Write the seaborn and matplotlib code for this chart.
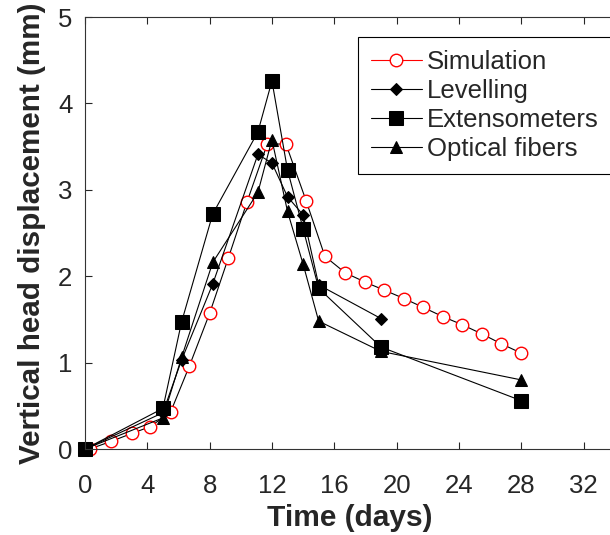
import matplotlib
matplotlib.use("Agg")
import matplotlib.pyplot as plt
import pandas as pd
import seaborn as sns

# ---------- data ----------
sim_days = [0.3, 1.7, 3.0, 4.2, 5.5, 6.7, 8.0, 9.2, 10.4, 11.7, 12.9, 14.2,
            15.4, 16.7, 18.0, 19.2, 20.5, 21.7, 23.0, 24.2, 25.5, 26.7, 28.0]
sim_disp = [0.0, 0.09, 0.18, 0.26, 0.43, 0.96, 1.57, 2.21, 2.86, 3.53, 3.53, 2.87,
            2.23, 2.04, 1.93, 1.84, 1.74, 1.64, 1.53, 1.44, 1.33, 1.22, 1.11]

lev_days = [0, 5.0, 6.2, 8.2, 11.1, 12.0, 13.0, 14.0, 15.0, 19.0]
lev_disp = [0, 0.42, 1.03, 1.91, 3.41, 3.31, 2.92, 2.71, 1.90, 1.51]

ext_days = [0, 5.0, 6.2, 8.2, 11.1, 12.0, 13.0, 14.0, 15.0, 19.0, 28.0]
ext_disp = [0, 0.47, 1.47, 2.72, 3.67, 4.26, 3.23, 2.55, 1.86, 1.18, 0.56]

opt_days = [0, 5.0, 6.2, 8.2, 11.1, 12.0, 13.0, 14.0, 15.0, 19.0, 28.0]
opt_disp = [0, 0.36, 1.06, 2.16, 2.97, 3.58, 2.75, 2.14, 1.48, 1.13, 0.80]

x_ticks = [0, 4, 8, 12, 16, 20, 24, 28, 32]
y_ticks = [0, 1, 2, 3, 4, 5]

if __name__ == "__main__":

    sns.set_style("ticks")
    plt.rcParams["font.family"] = ["Liberation Sans", "DejaVu Sans"]

    fig = plt.figure(figsize=(6.1, 5.35), dpi=100)
    ax = fig.add_axes([0.1393, 0.1607, 0.8684, 0.8075])

    line_kw = dict(color="black", linewidth=0.8, markeredgecolor="black",
                   markerfacecolor="black", ax=ax, sort=False, legend=False,
                   clip_on=False)

    sns.lineplot(x=sim_days, y=sim_disp, ax=ax, sort=False, legend=False,
                 color="black", linewidth=0.8, marker="o", markersize=9,
                 markerfacecolor="white", markeredgecolor="red",
                 markeredgewidth=1.0, clip_on=False)

    sns.lineplot(x=opt_days, y=opt_disp, marker="^", markersize=9, **line_kw)
    sns.lineplot(x=lev_days, y=lev_disp, marker="D", markersize=6.5, **line_kw)
    sns.lineplot(x=ext_days, y=ext_disp, marker="s", markersize=9.5, **line_kw)

    sim_line, opt_line, lev_line, ext_line = ax.lines[:4]

    ax.set_xlim(0, 34)
    ax.set_ylim(0, 5)
    ax.set_xticks(x_ticks)
    ax.set_yticks(y_ticks)
    ax.tick_params(axis="both", direction="in", length=5, width=0.8,
                   labelsize=18.5, top=True)
    ax.tick_params(axis="x", pad=18)
    ax.tick_params(axis="y", pad=9)
    for side in ["left", "bottom", "top"]:
        ax.spines[side].set_linewidth(0.8)
        ax.spines[side].set_color("#333333")
    ax.spines["right"].set_visible(False)

    ax.set_xlabel("Time (days)", fontsize=21.5, fontweight="bold", labelpad=4)
    ax.set_ylabel("Vertical head displacement (mm)", fontsize=21.3,
                  fontweight="bold", labelpad=9)

    leg = ax.legend([sim_line, lev_line, ext_line, opt_line],
                    ["Simulation", "Levelling", "Extensometers", "Optical fibers"],
                    loc="upper left", bbox_to_anchor=(0.515, 0.954),
                    borderaxespad=0, fontsize=18.5, fancybox=False, framealpha=1,
                    edgecolor="black", handlelength=2.0, handletextpad=0.2,
                    labelspacing=0.2, borderpad=0.5)
    leg.get_frame().set_linewidth(0.8)
    # legend sample for Simulation is a red line
    leg.get_lines()[0].set_color("red")

    plt.savefig("out.png", dpi=100)
